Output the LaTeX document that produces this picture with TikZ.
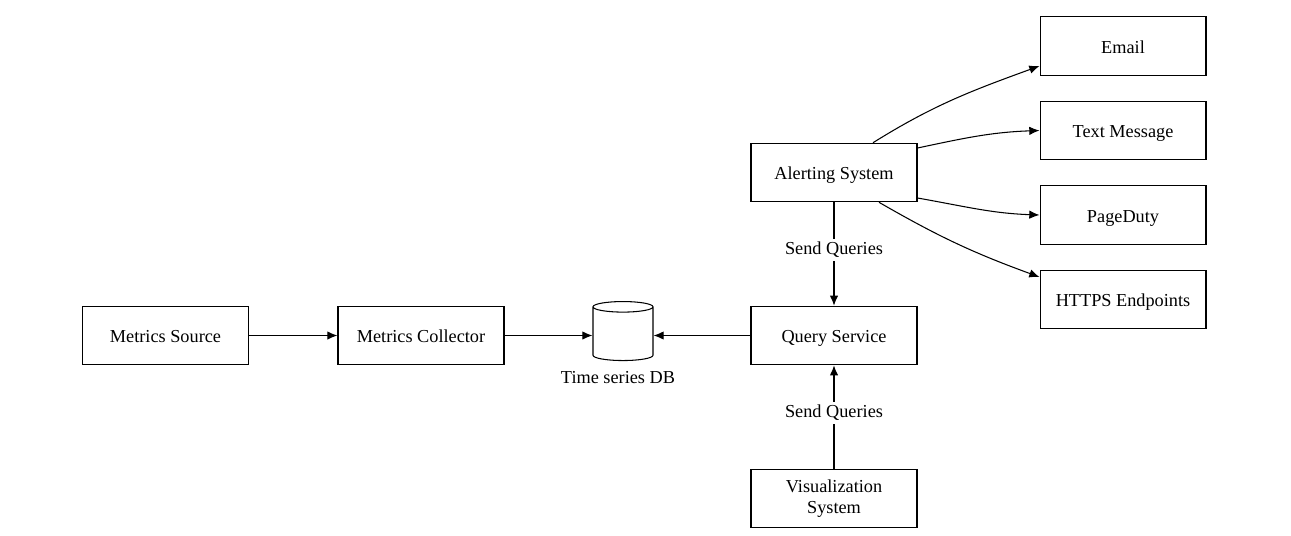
\documentclass[tikz,border=0pt]{standalone}
\usepackage{fontspec}
\setmainfont{Liberation Serif}
\usetikzlibrary{arrows.meta,shapes.geometric}
\tikzset{>={Latex[length=5.8pt,width=4.8pt]}}
\tikzset{
    plainbox/.style={draw, line width=0.6pt, minimum width=3.32cm, minimum height=1.17cm, align=center, font=\fontsize{10.4}{12.2}\selectfont},
    box/.style={plainbox, text height=10.4pt, text depth=2.2pt},
    link/.style={->, line width=0.6pt},
    edgelabel/.style={fill=white, font=\fontsize{10.4}{12.2}\selectfont, inner sep=2pt}
}

\begin{document}
\begin{tikzpicture}[x=0.02cm, y=-0.02cm]

    \useasboundingbox (0,0) rectangle (1291,535);

    % pipeline
    \node[box] (source) at (165.5,335.5) {Metrics Source};
    \node[box] (collector) at (421,335.5) {Metrics Collector};
    \node[draw, line width=0.6pt, cylinder, shape border rotate=90, aspect=0.9, minimum width=1.2cm, minimum height=1.18cm, fill=white] (db) at (623,335.5) {};
    \node[font=\fontsize{10.4}{12.2}\selectfont] (dblabel) at (618,378) {Time series DB};
    \node[box] (query) at (834,335.5) {Query Service};
    \node[box] (alert) at (834,172.5) {Alerting System};
    \node[plainbox] (vis) at (834,498.5) {Visualization\\System};

    % notification targets
    \node[box] (email) at (1123,46) {Email};
    \node[box] (sms) at (1123,130.5) {Text Message};
    \node[box] (pager) at (1123,215) {PageDuty};
    \node[box] (https) at (1123,299.5) {HTTPS Endpoints};

    \draw[link] (source) -- (collector);
    \draw[link] (collector) -- (db.west);
    \draw[link] (query) -- (db.east);

    \draw[link] (alert) -- (query) node[edgelabel, pos=0.46]{Send Queries};
    \draw[link] (vis) -- (query) node[edgelabel, pos=0.54]{Send Queries};

    \draw[link] ([xshift=0.78cm]alert.north) to[out=32, in=200] ([yshift=-0.4cm]email.west);
    \draw[link] ([yshift=0.49cm]alert.east) to[out=12, in=182] (sms.west);
    \draw[link] ([yshift=-0.51cm]alert.east) to[out=-10, in=178] (pager.west);
    \draw[link] ([xshift=0.9cm]alert.south) to[out=-30, in=160] ([yshift=0.45cm]https.west);

\end{tikzpicture}
\end{document}
